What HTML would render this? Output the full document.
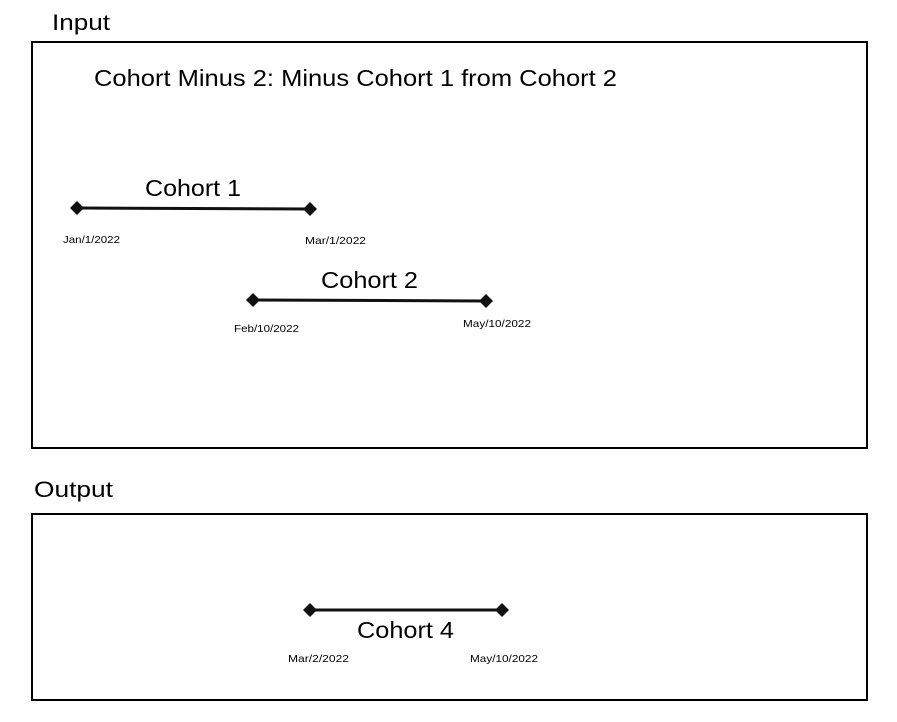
<!DOCTYPE html>
<html><head><style>body{margin:0;background:#fff}svg{display:block}text{font-family:"Liberation Sans",sans-serif;fill:#000}</style></head>
<body>
<svg width="897" height="722" viewBox="0 0 897 722" xmlns="http://www.w3.org/2000/svg">
<rect x="32" y="42" width="835" height="406" fill="none" stroke="#000" stroke-width="2"/>
<rect x="32" y="514" width="835" height="186" fill="none" stroke="#000" stroke-width="2"/>
<text x="52" y="30" font-size="22" textLength="58" lengthAdjust="spacingAndGlyphs">Input</text>
<text x="34" y="497" font-size="22" textLength="79" lengthAdjust="spacingAndGlyphs">Output</text>
<text x="94" y="86" font-size="23" textLength="523" lengthAdjust="spacingAndGlyphs">Cohort Minus 2: Minus Cohort 1 from Cohort 2</text>
<g stroke="#111" stroke-width="3">
<line x1="77" y1="208" x2="310" y2="209"/>
<line x1="253" y1="300" x2="486" y2="301"/>
<line x1="310" y1="610" x2="502" y2="610"/>
</g>
<g fill="#111">
<path d="M77 201l7 7-7 7-7-7z"/><path d="M310 202l7 7-7 7-7-7z"/>
<path d="M253 293l7 7-7 7-7-7z"/><path d="M486 294l7 7-7 7-7-7z"/>
<path d="M310 603l7 7-7 7-7-7z"/><path d="M502 603l7 7-7 7-7-7z"/>
</g>
<text x="145" y="196" font-size="23" textLength="96" lengthAdjust="spacingAndGlyphs">Cohort 1</text>
<text x="321" y="288" font-size="23" textLength="97" lengthAdjust="spacingAndGlyphs">Cohort 2</text>
<text x="357" y="638" font-size="23" textLength="97" lengthAdjust="spacingAndGlyphs">Cohort 4</text>
<g font-size="10.5">
<text x="63" y="243" textLength="57" lengthAdjust="spacingAndGlyphs">Jan/1/2022</text>
<text x="305" y="244" textLength="61" lengthAdjust="spacingAndGlyphs">Mar/1/2022</text>
<text x="234" y="332" textLength="65" lengthAdjust="spacingAndGlyphs">Feb/10/2022</text>
<text x="463" y="327" textLength="68" lengthAdjust="spacingAndGlyphs">May/10/2022</text>
<text x="288" y="662" textLength="61" lengthAdjust="spacingAndGlyphs">Mar/2/2022</text>
<text x="470" y="662" textLength="68" lengthAdjust="spacingAndGlyphs">May/10/2022</text>
</g>
</svg>
</body></html>
